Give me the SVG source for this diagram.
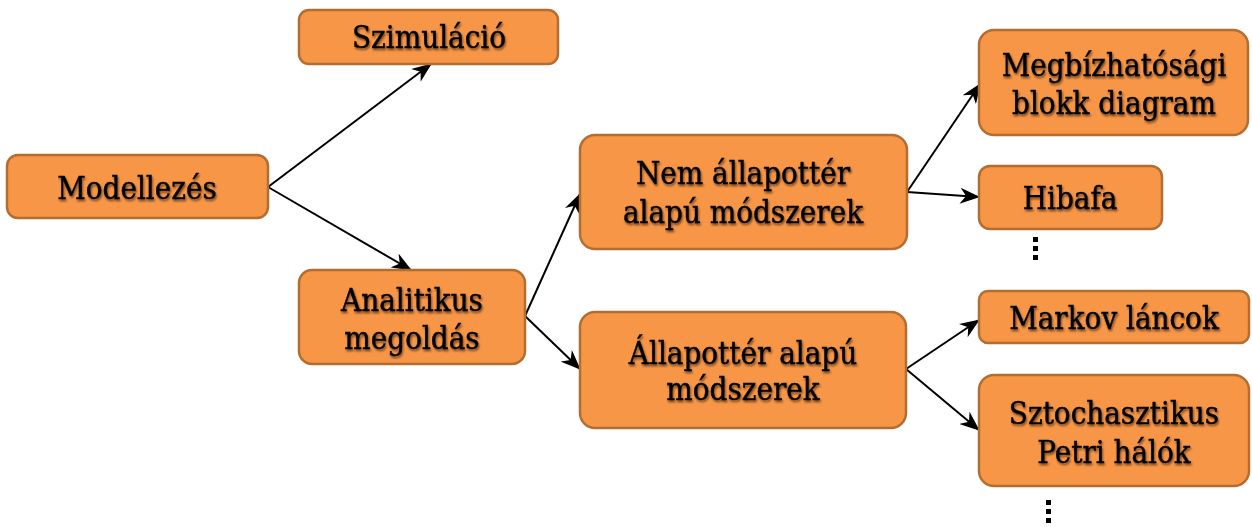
<svg xmlns="http://www.w3.org/2000/svg" width="1252" height="527" viewBox="0 0 1252 527">
  <style>
    .box { fill: #F79646; stroke: #B46D30; stroke-width: 2.5; }
    .lbl { font-family: "DejaVu Serif Condensed", "DejaVu Serif", "Liberation Serif", serif; font-stretch: condensed; font-size: 31px; fill: #000; stroke: #000; stroke-width: 0.4; text-anchor: middle; filter: url(#ts); }
    .edge { stroke: #000; stroke-width: 2; fill: none; marker-end: url(#arr); }
    .dot { fill: #000; }
  </style>
  <defs>
    <marker id="arr" viewBox="0 0 20 16" refX="19" refY="8" markerWidth="20" markerHeight="16" markerUnits="userSpaceOnUse" orient="auto">
      <path d="M0,0 L20,8 L0,16 L6,8 Z" fill="#000"/>
    </marker>
    <filter id="ts" x="-10%" y="-30%" width="120%" height="160%">
      <feGaussianBlur in="SourceAlpha" stdDeviation="1.3"/>
      <feOffset dx="1" dy="1.5" result="b"/>
      <feComponentTransfer><feFuncA type="linear" slope="0.55"/></feComponentTransfer>
      <feMerge><feMergeNode/><feMergeNode in="SourceGraphic"/></feMerge>
    </filter>
  </defs>

  <g id="connectors">
    <line class="edge" x1="268" y1="187" x2="431" y2="64"/>
    <line class="edge" x1="268" y1="187" x2="411" y2="270"/>
    <line class="edge" x1="525" y1="316" x2="580" y2="194"/>
    <line class="edge" x1="525" y1="316" x2="580" y2="369"/>
    <line class="edge" x1="907" y1="192" x2="980" y2="84"/>
    <line class="edge" x1="907" y1="192" x2="979" y2="197"/>
    <line class="edge" x1="906" y1="369" x2="979" y2="320"/>
    <line class="edge" x1="906" y1="369" x2="979" y2="430"/>
  </g>

  <g id="n-modellezes">
    <rect class="box" x="7" y="155" width="261" height="63" rx="11"/>
    <text class="lbl" x="137" y="199">Modellezés</text>
  </g>
  <g id="n-szimulacio">
    <rect class="box" x="299" y="10" width="259" height="54" rx="10"/>
    <text class="lbl" x="429" y="48">Szimuláció</text>
  </g>
  <g id="n-analitikus">
    <rect class="box" x="299" y="270" width="226" height="94" rx="13"/>
    <text class="lbl" x="412" y="311">Analitikus</text>
    <text class="lbl" x="412" y="349">megoldás</text>
  </g>
  <g id="n-nem">
    <rect class="box" x="580" y="135" width="327" height="114" rx="15"/>
    <text class="lbl" x="743" y="184">Nem állapottér</text>
    <text class="lbl" x="743" y="223">alapú módszerek</text>
  </g>
  <g id="n-allapotter">
    <rect class="box" x="580" y="312" width="326" height="116" rx="15"/>
    <text class="lbl" x="743" y="364">Állapottér alapú</text>
    <text class="lbl" x="743" y="400">módszerek</text>
  </g>
  <g id="n-megbizhatosagi">
    <rect class="box" x="979" y="30" width="269" height="105" rx="15"/>
    <text class="lbl" x="1114" y="76">Megbízhatósági</text>
    <text class="lbl" x="1114" y="114">blokk diagram</text>
  </g>
  <g id="n-hibafa">
    <rect class="box" x="979" y="166" width="183" height="63" rx="11"/>
    <text class="lbl" x="1070" y="209">Hibafa</text>
  </g>
  <g id="n-markov">
    <rect class="box" x="979" y="291" width="270" height="52" rx="9"/>
    <text class="lbl" x="1114" y="329">Markov láncok</text>
  </g>
  <g id="n-sztochasztikus">
    <rect class="box" x="979" y="375" width="270" height="111" rx="15"/>
    <text class="lbl" x="1114" y="424">Sztochasztikus</text>
    <text class="lbl" x="1114" y="463">Petri hálók</text>
  </g>

  <g id="ellipsis-1">
    <rect class="dot" x="1033" y="237" width="5" height="5"/>
    <rect class="dot" x="1033" y="246" width="5" height="5"/>
    <rect class="dot" x="1033" y="255" width="5" height="5"/>
  </g>
  <g id="ellipsis-2">
    <rect class="dot" x="1046" y="500" width="5" height="5"/>
    <rect class="dot" x="1046" y="509" width="5" height="5"/>
    <rect class="dot" x="1046" y="518" width="5" height="5"/>
  </g>
</svg>
